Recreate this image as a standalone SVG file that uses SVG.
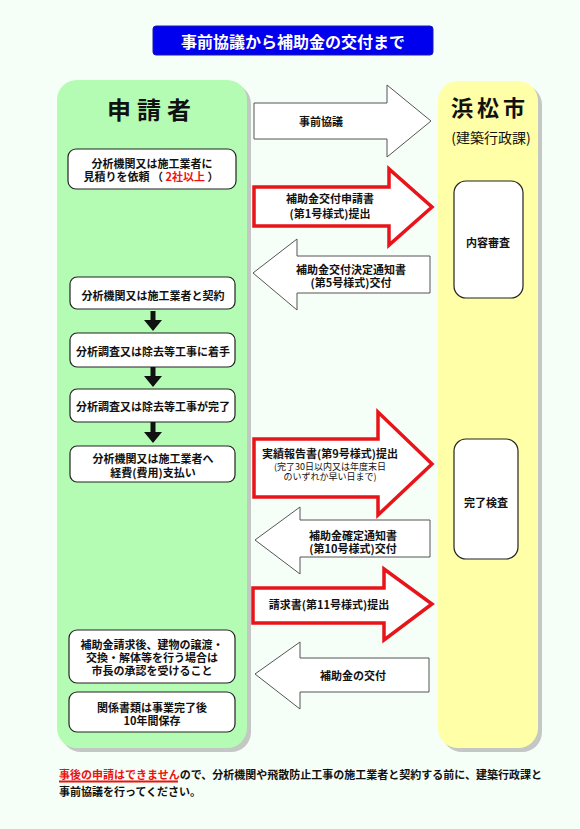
<svg xmlns="http://www.w3.org/2000/svg" width="580" height="829" viewBox="0 0 580 829">
<style>
text{font-family:"Noto Sans CJK JP","Noto Sans",sans-serif;font-weight:bold;fill:#111;}
.t{font-size:11px;text-anchor:middle;dominant-baseline:central;}
.s{font-size:9px;font-weight:normal;}
.box{fill:#fff;stroke:#222;stroke-width:1.2;}
.wa{fill:#fff;stroke:#555;stroke-width:1;}
.ra{fill:#fff;stroke:#e8141a;stroke-width:3.5;stroke-linejoin:miter;}
.shadow{fill:#9a9a9a;opacity:0.55;}
.red{fill:#ee1111;}
</style>
<rect x="0" y="0" width="580" height="829" fill="#f5fff7"/>
<g id="title">
<rect x="153" y="26" width="280" height="29" rx="3" fill="#0000ee" stroke="#1a1ab0"/>
<text x="293" y="41" style="font-size:16px;text-anchor:middle;dominant-baseline:central;fill:#fff;">事前協議から補助金の交付まで</text>
</g>
<g id="applicant-panel">
<rect class="shadow" x="61" y="84" width="190" height="668" rx="20"/>
<rect x="57" y="80" width="190" height="668" rx="20" fill="#b4fcb4"/>
<text x="152" y="108" style="font-size:24px;text-anchor:middle;dominant-baseline:central;letter-spacing:6px;">申請者</text>
</g>
<g id="city-panel">
<rect class="shadow" x="442" y="85" width="100" height="667" rx="20"/>
<rect x="438" y="81" width="100" height="667" rx="20" fill="#ffffa8"/>
<text x="490" y="106" style="font-size:22px;text-anchor:middle;dominant-baseline:central;letter-spacing:4px;">浜松市</text>
<text x="491" y="137" style="font-size:14px;text-anchor:middle;dominant-baseline:central;font-weight:normal;">(建築行政課)</text>
</g>
<g id="n1">
<rect class="box" x="68" y="149" width="168" height="40" rx="8"/>
<text class="t" x="152" y="163">分析機関又は施工業者に<tspan x="151" dy="13">見積りを依頼 （ </tspan><tspan class="red">2社以上</tspan><tspan> ）</tspan></text>
</g>
<g id="n2">
<rect class="box" x="70" y="277" width="165" height="32" rx="7"/>
<text class="t" x="153" y="295">分析機関又は施工業者と契約</text>
</g>
<g id="n3">
<rect class="box" x="70" y="333" width="165" height="34" rx="7"/>
<text class="t" x="153" y="351">分析調査又は除去等工事に着手</text>
</g>
<g id="n4">
<rect class="box" x="70" y="389" width="165" height="33" rx="7"/>
<text class="t" x="153" y="406">分析調査又は除去等工事が完了</text>
</g>
<g id="n5">
<rect class="box" x="70" y="446" width="165" height="36" rx="7"/>
<text class="t" x="153" y="458">分析機関又は施工業者へ<tspan x="153" dy="14">経費(費用)支払い</tspan></text>
</g>
<g id="n6">
<rect class="box" x="69" y="630" width="166" height="53" rx="8"/>
<text class="t" x="152" y="644">補助金請求後、建物の譲渡・<tspan x="152" dy="13">交換・解体等を行う場合は</tspan><tspan x="152" dy="13">市長の承認を受けること</tspan></text>
</g>
<g id="n7">
<rect class="box" x="69" y="692" width="166" height="40" rx="8"/>
<text class="t" x="152" y="707">関係書類は事業完了後<tspan x="152" dy="13">10年間保存</tspan></text>
</g>
<g id="r1">
<rect class="box" x="454" y="181" width="69" height="117" rx="12"/>
<text class="t" x="488" y="242">内容審査</text>
</g>
<g id="r2">
<rect class="box" x="454" y="439" width="64" height="120" rx="12"/>
<text class="t" x="486" y="502">完了検査</text>
</g>
<g id="connectors">
<g fill="#111">
<polygon points="150.5,311 155.5,311 155.5,320 162,320 153,331 144,320 150.5,320"/>
<polygon points="150.5,367 155.5,367 155.5,376 162,376 153,387 144,376 150.5,376"/>
<polygon points="150.5,422 155.5,422 155.5,432 162,432 153,443 144,432 150.5,432"/>
</g>
<g id="a1">
<polygon class="wa" points="254,103 387,103 387,85 431,121 387,157 387,139 254,139"/>
<text class="t" x="321" y="121">事前協議</text>
</g>
<g id="a2">
<polygon class="ra" points="254,187 389,187 389,169 432,207 389,245 389,226 254,226"/>
<text class="t" x="330" y="198">補助金交付申請書<tspan x="330" dy="15">(第1号様式)提出</tspan></text>
</g>
<g id="a3">
<polygon class="wa" points="430,256 297,256 297,239 253,273 297,310 297,293 430,293"/>
<text class="t" x="351" y="269">補助金交付決定通知書<tspan x="351" dy="13">(第5号様式)交付</tspan></text>
</g>
<g id="a4">
<polygon class="ra" points="254,439 378,439 378,412 432,464 378,515 378,497 254,497"/>
<text class="t" x="330" y="453">実績報告書(第9号様式)提出<tspan class="s" x="330" dy="13">(完了30日以内又は年度末日</tspan><tspan class="s" x="330" dy="10">のいずれか早い日まで)</tspan></text>
</g>
<g id="a5">
<polygon class="wa" points="430,520 300,520 300,507 255,540 300,574 300,557 430,557"/>
<text class="t" x="353" y="535">補助金確定通知書<tspan x="353" dy="13">(第10号様式)交付</tspan></text>
</g>
<g id="a6">
<polygon class="ra" points="253,588 384,588 384,569 432,604 384,640 384,623 253,623"/>
<text class="t" x="329" y="604">請求書(第11号様式)提出</text>
</g>
<g id="a7">
<polygon class="wa" points="429,658 300,658 300,642 255,674 300,709 300,692 429,692"/>
<text class="t" x="353" y="675">補助金の交付</text>
</g>
</g>
<g id="note">
<text x="59" y="779" style="font-size:11px;"><tspan class="red">事後の申請はできません</tspan>ので、分析機関や飛散防止工事の施工業者と契約する前に、建築行政課と<tspan x="59" dy="17">事前協議を行ってください。</tspan></text>
<rect x="59" y="780.5" width="119" height="2" fill="#ee1111"/>
</g>
</svg>
